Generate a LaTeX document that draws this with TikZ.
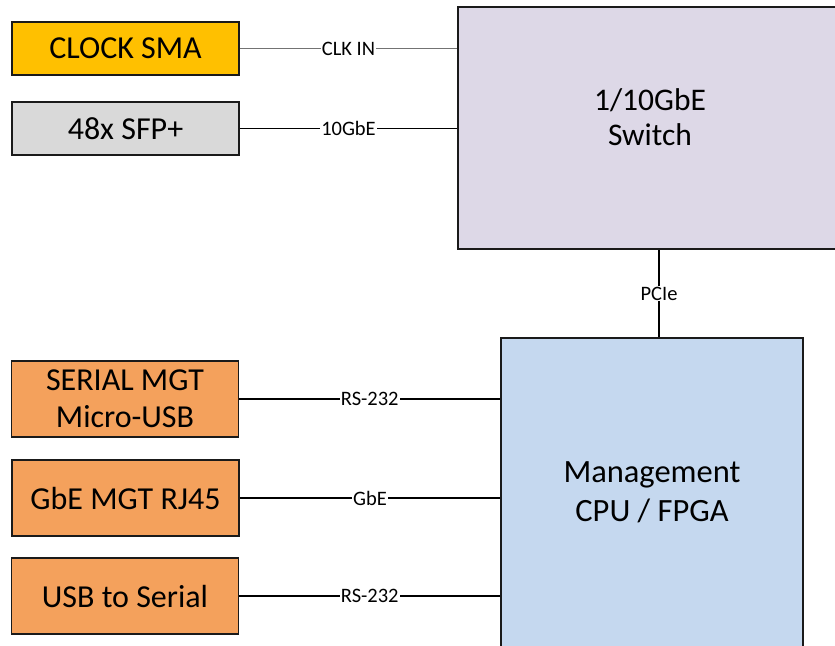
\documentclass[tikz,border=0pt]{standalone}
\usepackage{fontspec}
\setmainfont{Carlito}
\definecolor{clockc}{HTML}{FFC000}
\definecolor{sfpc}{HTML}{D9D9D9}
\definecolor{orangec}{HTML}{F4A15C}
\definecolor{switchc}{HTML}{DDD8E7}
\definecolor{mgmtc}{HTML}{C5D8EF}
\definecolor{edgec}{HTML}{1A1A1A}
\begin{document}
\begin{tikzpicture}[x=1pt,y=-1pt,
  blk/.style={draw=edgec, line width=1.6pt, minimum width=227pt, inner sep=0pt,
    font=\fontsize{32}{37}\selectfont, align=center},
  bigblk/.style={draw=edgec, line width=1.6pt, inner sep=0pt},
  bigtxt/.style={font=\fontsize{31.5}{35}\selectfont, align=center, inner sep=0pt},
  lab/.style={fill=white, inner sep=1pt, font=\fontsize{20.5}{22}\selectfont},
  thinln/.style={line width=0.9pt},
  thickln/.style={line width=1.8pt}
]
\useasboundingbox (0,0) rectangle (835,645);
\clip (0,0) rectangle (835,645);

% blocks
\node[blk, fill=clockc, minimum height=53pt] (clock) at (125.5,48.5) {CLOCK SMA};
\node[blk, fill=sfpc, minimum height=53pt] (sfp) at (125.5,128.5) {48x SFP+};
\node[blk, fill=orangec, minimum height=76pt] (serial) at (125,399) {SERIAL MGT\\Micro-USB};
\node[blk, fill=orangec, minimum height=76pt] (gbe) at (125.5,498) {GbE MGT RJ45};
\node[blk, fill=orangec, minimum height=76pt] (usb) at (125,596) {USB to Serial};

\node[bigblk, fill=switchc, minimum width=385pt, minimum height=242pt] (sw) at (650.5,128) {};
\node[bigtxt] (swtext) at (650,117) {1/10GbE\\Switch};

\node[bigblk, fill=mgmtc, minimum width=302pt, minimum height=362pt] (mgmt) at (652,519) {};
\node[bigtxt, font=\fontsize{32.5}{39}\selectfont] (mgmttext) at (652,492) {Management\\CPU / FPGA};

\coordinate (pcx) at (659,0);

% connectors
\draw[thinln, draw=gray!90!black] (clock.east) -- node[lab] {CLK IN} (clock.east -| sw.west);
\draw[thinln] (sfp.east) -- node[lab] {10GbE} (sfp.east -| sw.west);
\draw[thickln] (sw.south -| pcx) -- node[lab] {PCIe} (mgmt.north -| pcx);
\draw[thickln] (serial.east) -- node[lab] {RS-232} (serial.east -| mgmt.west);
\draw[thickln] (gbe.east) -- node[lab] {GbE} (gbe.east -| mgmt.west);
\draw[thickln] (usb.east) -- node[lab] {RS-232} (usb.east -| mgmt.west);
\end{tikzpicture}
\end{document}
